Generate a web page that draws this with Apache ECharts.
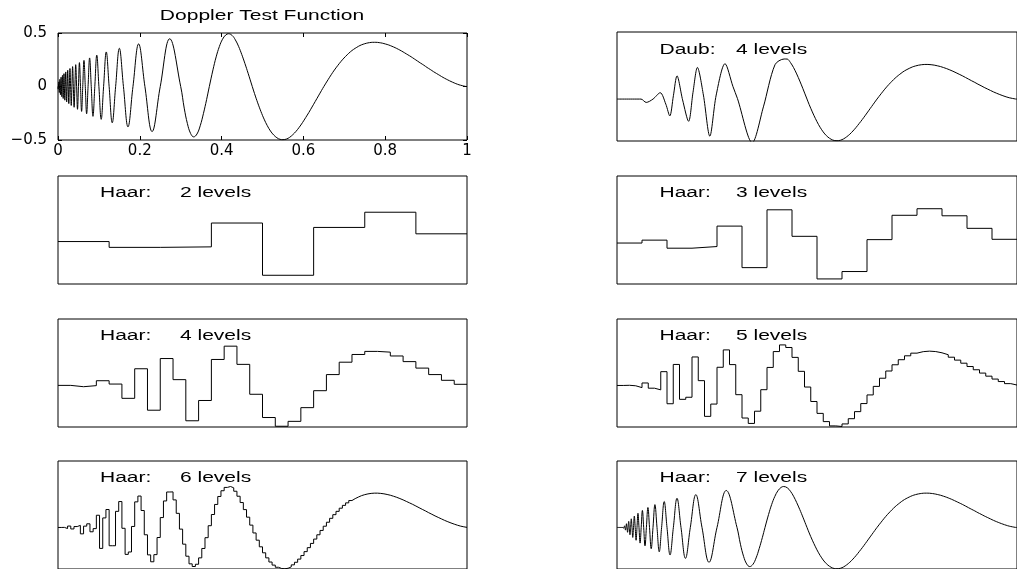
<!DOCTYPE html>
<html>
<head>
<meta charset="utf-8">
<script src="https://cdn.jsdelivr.net/npm/echarts@6/dist/echarts.min.js"></script>
<style>
html,body{margin:0;padding:0;background:#fff;}
#chart{width:1017px;height:569px;}
</style>
</head>
<body>
<div id="chart"></div>
<script>
// ---------- text ----------
const chartTitle = 'Doppler Test Function';
const xTickLabels = ['0', '0.2', '0.4', '0.6', '0.8', '1'];
const yTickLabels = ['\u22120.5', '0', '0.5'];
const panelNames = ['Daub:', 'Haar:', 'Haar:', 'Haar:', 'Haar:', 'Haar:', 'Haar:'];
const panelLevels = [4, 2, 3, 4, 5, 6, 7];

// ---------- Doppler test function ----------
// oscillating head (t < 0.3): zero crossings and extremes
const dopplerHeadT = [0, .0006, .0012, .0019, .0025, .0032, .0038, .0045, .0053, .0060, .0068, .0075, .0083, .0092, .0100, .0109, .0118, .0127, .0136, .0146, .0156, .0167, .0177, .0189, .0200, .0212, .0224, .0237, .0250, .0264, .0278, .0292, .0308, .0324, .0340, .0357, .0375, .0394, .0413, .0433, .0455, .0477, .0500, .0524, .0550, .0577, .0605, .0635, .0667, .0700, .0735, .0773, .0813, .0855, .0900, .0948, .1000, .1056, .1115, .1180, .1250, .1326, .1409, .1500, .1600, .1711, .1833, .1971, .2125, .2300, .2500, .2731, .3000];
const dopplerHeadY = [0, -.0245, 0, .043, 0, -.056, 0, .067, 0, -.077, 0, .087, 0, -.095, 0, .104, 0, -.112, 0, .120, 0, -.128, 0, .136, 0, -.144, 0, .152, 0, -.160, 0, .168, 0, -.177, 0, .186, 0, -.194, 0, .204, 0, -.213, 0, .223, 0, -.233, 0, .244, 0, -.255, 0, .267, 0, -.279, 0, .293, 0, -.307, 0, .323, 0, -.339, 0, .357, 0, -.377, 0, .398, 0, -.421, 0, .446, 0];
// smooth tail (t > 0.3)
const dopplerTailT = [.3086, .3164, .3242, .3318, .3398, .3477, .3555, .3633, .3700, .3789, .3867, .3945, .4023, .4102, .4167, .4258, .4336, .4414, .4492, .4570, .4648, .4750, .4805, .4883, .4961, .5039, .5117, .5195, .5273, .5352, .5430, .5500, .5586, .5664, .5742, .5820, .5898, .5977, .6055, .6133, .6211, .6289, .6367, .6445, .6500, .6602, .6680, .6758, .6836, .6914, .6992, .7070, .7148, .7227, .7305, .7383, .7461, .7539, .7617, .7695, .7773, .7852, .7930, .8008, .8086, .8164, .8242, .8320, .8398, .8477, .8555, .8633, .8711, .8789, .8867, .8945, .9023, .9102, .9180, .9258, .9336, .9414, .9492, .9570, .9648, .9727, .9805, .9883, .9961, 1.0];
const dopplerTailY = [-.202, -.347, -.439, -.471, -.444, -.367, -.254, -.123, 0, .156, .277, .373, .442, .482, .493, .477, .436, .376, .300, .215, .124, 0, -.066, -.153, -.233, -.305, -.366, -.416, -.453, -.479, -.494, -.497, -.491, -.475, -.450, -.419, -.381, -.338, -.291, -.243, -.192, -.140, -.088, -.036, 0, .063, .110, .154, .194, .232, .266, .296, .324, .347, .366, .383, .395, .404, .410, .413, .413, .410, .405, .397, .388, .376, .363, .348, .332, .314, .296, .278, .258, .238, .218, .199, .178, .159, .139, .121, .103, .085, .069, .054, .040, .027, .016, .008, .001, 0];

// ---------- Daubechies, 4 levels (head, tail follows the function) ----------
const daubHeadT = [0, .060, .073, .090, .108, .122, .132, .141, .150, .164, .179, .190, .201, .216, .232, .248, .270, .290, .301, .338, .366, .395, .418];
const daubHeadY = [0, 0, -.040, 0, .076, -.060, -.201, .040, .277, -.010, -.265, .080, .377, .048, -.442, .048, .422, .148, .008, -.520, -.093, .410, .478];

// ---------- Haar approximations ----------
const haar2 = [.011, -.059, -.053, .234, -.395, .181, .364, .104];
const haar3 = [-.007, .028, -.069, -.049, .197, -.303, .393, .074, -.439, -.350, .034, .327, .406, .321, .170, .038];
const haar4 = [.001, -.015, -.002, .057, .017, -.155, .201, -.298, .324, .070, -.425, -.181, .313, .473, .254, -.106,
  -.386, -.491, -.432, -.267, -.063, .131, .280, .373, .410, .401, .355, .287, .209, .131, .062, .014];
const haar5 = [.000, .002, -.004, -.026, .030, -.033, -.053, .166, -.220, .253, -.167, -.142, .343, .058, -.372, -.224,
  .219, .428, .251, -.111, -.392, -.457, -.310, -.051, .217, .408, .488, .457, .338, .170, -.019, -.193,
  -.336, -.435, -.487, -.494, -.463, -.400, -.315, -.218, -.114, -.011, .087, .174, .249, .310, .357, .389,
  .407, .413, .408, .393, .370, .340, .305, .268, .228, .189, .149, .112, .077, .047, .022, .005];
const haar6 = [0, .001, -.013, .017, -.018, .011, .025, -.077, .016, .044, -.052, -.014, .147, -.252, .115, .216,
  -.220, -.220, .194, .312, -.010, -.324, -.295, .012, .308, .378, .204, -.088, -.330, -.413, -.327, -.121,
  .119, .319, .427, .428, .332, .170, -.020, -.201, -.346, -.438, -.470, -.443, -.366, -.253, -.123, .021,
  .156, .277, .373, .442, .482, .493, .477, .436, .376, .300, .215, .124, .028, -.066, -.153, -.233,
  -.305, -.366, -.416, -.453, -.479, -.494, -.497, -.491, -.475, -.450, -.419, -.381, -.338, -.291, -.243, -.192,
  -.140, -.088, -.036, .015, .063, .110, .154, .194, .232, .266, .296, .324, .347, .366, .383, .395,
  .404, .410, .413, .413, .410, .405, .397, .388, .376, .363, .348, .332, .314, .296, .278, .258,
  .238, .218, .199, .178, .159, .139, .121, .103, .085, .069, .054, .040, .027, .016, .008, .001];
const haar7HeadT = [0, .0156, .0167, .0177, .0189, .0200, .0212, .0224, .0237, .0250, .0264, .0278, .0292, .0308, .0324, .0340, .0357, .0375, .0394, .0413, .0433, .0455, .0477, .0500, .0524, .0550, .0577, .0605, .0635, .0667, .0700, .0735, .0773, .0813, .0855, .0900, .0948, .1000, .1056, .1115, .1180, .1250, .1326, .1409, .1500, .1600, .1711, .1833, .1971, .2125, .2300, .2500, .2731, .3000];
const haar7HeadY = [0, 0, -.010, 0, .020, 0, -.032, 0, .045, 0, -.058, 0, .073, 0, -.088, 0, .104, 0, -.120, 0, .137, 0, -.154, 0, .171, 0, -.188, 0, .205, 0, -.222, 0, .240, 0, -.256, 0, .275, 0, -.293, 0, .312, 0, -.331, 0, .351, 0, -.372, 0, .395, 0, -.419, 0, .445, 0];

// ---------- build ----------
function zip(ts, ys) { return ts.map((t, i) => [t, ys[i]]); }
function steps(vals) {
  const n = vals.length;
  const d = vals.map((v, i) => [i / n, v]);
  d.push([1, vals[n - 1]]);
  return d;
}
const dopplerData = zip(dopplerHeadT, dopplerHeadY).concat(zip(dopplerTailT, dopplerTailY));
const daubData = zip(daubHeadT, daubHeadY).concat(zip(dopplerTailT, dopplerTailY).filter(p => p[0] > 0.42));
const haar7Data = zip(haar7HeadT, haar7HeadY).concat(zip(dopplerTailT, dopplerTailY));

const FONT = '"Liberation Sans", Arial, Helvetica, sans-serif';
const TICKFONT = '"DejaVu Sans", sans-serif';
const colX = [58, 617];
const W = 409;
const panels = [
  {left: colX[0], top: 33, h: 107},
  {left: colX[1], top: 32, h: 109},
  {left: colX[0], top: 176, h: 108},
  {left: colX[1], top: 176, h: 108},
  {left: colX[0], top: 319, h: 108},
  {left: colX[1], top: 319, h: 108},
  {left: colX[0], top: 461, h: 108},
  {left: colX[1], top: 461, h: 108}
];
const grid = panels.map(p => ({
  left: p.left, top: p.top, width: W, height: p.h,
  show: true, borderColor: '#000', borderWidth: 1, backgroundColor: 'transparent', containLabel: false
}));

const tickStyle = {show: true, inside: true, length: 4, lineStyle: {color: '#000', width: 1}};
const noLine = {show: false, onZero: false};
const xAxis = [], yAxis = [];
// panel 0 : labelled axes
xAxis.push({gridIndex: 0, type: 'value', min: 0, max: 1, interval: 0.2, position: 'bottom',
  axisLine: noLine, splitLine: {show: false}, axisTick: tickStyle,
  axisLabel: {margin: 4, color: '#000', fontSize: 15, fontFamily: TICKFONT,
    formatter: v => xTickLabels[Math.round(v / 0.2)]}});
yAxis.push({gridIndex: 0, type: 'value', min: -0.5, max: 0.5, interval: 0.5, position: 'left',
  axisLine: noLine, splitLine: {show: false}, axisTick: tickStyle,
  axisLabel: {margin: 11, color: '#000', fontSize: 15, fontFamily: TICKFONT,
    formatter: v => yTickLabels[Math.round((v + 0.5) / 0.5)]}});
for (let g = 1; g < 8; g++) {
  xAxis.push({gridIndex: g, type: 'value', min: 0, max: 1, show: false, axisLine: noLine});
  yAxis.push({gridIndex: g, type: 'value', min: -0.5, max: 0.8, show: false, axisLine: noLine});
}
// mirrored ticks on panel 0
xAxis.push({gridIndex: 0, type: 'value', min: 0, max: 1, interval: 0.2, position: 'top',
  axisLine: noLine, splitLine: {show: false}, axisTick: tickStyle, axisLabel: {show: false}});
yAxis.push({gridIndex: 0, type: 'value', min: -0.5, max: 0.5, interval: 0.5, position: 'right',
  axisLine: noLine, splitLine: {show: false}, axisTick: tickStyle, axisLabel: {show: false}});

const lineBase = {type: 'line', showSymbol: false, symbol: 'none', clip: true,
  lineStyle: {color: '#000', width: 1}, itemStyle: {color: '#000'}, animation: false, silent: true};
const seriesData = [
  {data: dopplerData, smooth: 0.4},
  {data: daubData, smooth: 0.3},
  {data: steps(haar2), step: 'end'},
  {data: steps(haar3), step: 'end'},
  {data: steps(haar4), step: 'end'},
  {data: steps(haar5), step: 'end'},
  {data: steps(haar6), step: 'end'},
  {data: haar7Data, smooth: 0.4}
];
const series = seriesData.map((s, g) => Object.assign({}, lineBase, s, {xAxisIndex: g, yAxisIndex: g}));

// texts
const graphic = [];
graphic.push({type: 'text', x: 262, y: 16.5, scaleX: 1.5, silent: true,
  style: {text: chartTitle, font: '14px ' + FONT, fill: '#000', textAlign: 'center', textVerticalAlign: 'middle'}});
const labelY = [50, 193, 193, 336, 336, 478.5, 478.5];
panelNames.forEach((name, k) => {
  const p = panels[k + 1];
  const right = p.left > 300;
  const nx = right ? 659.5 : 100;
  const lx = right ? 736 : 180;
  graphic.push({type: 'text', x: nx, y: labelY[k], scaleX: 1.5, silent: true,
    style: {text: name, font: '14px ' + FONT, fill: '#000', textAlign: 'left', textVerticalAlign: 'middle'}});
  graphic.push({type: 'text', x: lx, y: labelY[k], scaleX: 1.5, silent: true,
    style: {text: panelLevels[k] + ' levels', font: '14px ' + FONT, fill: '#000', textAlign: 'left', textVerticalAlign: 'middle'}});
});

const chart = echarts.init(document.getElementById('chart'), null, {renderer: 'canvas'});
chart.setOption({
  animation: false,
  backgroundColor: '#fff',
  grid: grid, xAxis: xAxis, yAxis: yAxis, series: series, graphic: graphic
});
</script>
</body>
</html>
